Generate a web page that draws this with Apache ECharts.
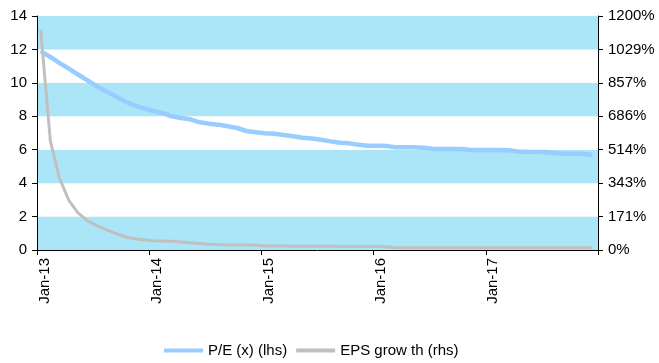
<!DOCTYPE html>
<html>
<head>
<meta charset="utf-8">
<script src="https://cdn.jsdelivr.net/npm/echarts@6/dist/echarts.min.js"></script>
<style>
  html, body { margin: 0; padding: 0; background: #fff; }
  #chart { width: 659px; height: 363px; }
</style>
</head>
<body>
<div id="chart"></div>
<script>
// Observation dates (mid-month, Jan-2013 to Dec-2017)
const dates = [];
for (let y = 2013; y <= 2017; y++) {
  for (let mo = 1; mo <= 12; mo++) {
    dates.push(y + '-' + String(mo).padStart(2, '0') + '-13');
  }
}

// P/E multiple (x), left-hand scale
const peValues = [
  11.9, 11.55, 11.2, 10.85, 10.5, 10.15, 9.8, 9.5, 9.2, 8.9, 8.65, 8.48,
  8.33, 8.2, 8.0, 7.9, 7.82, 7.64, 7.56, 7.5, 7.4, 7.3, 7.12, 7.05,
  6.98, 6.96, 6.88, 6.8, 6.72, 6.67, 6.6, 6.5, 6.42, 6.38, 6.3, 6.24,
  6.24, 6.22, 6.14, 6.14, 6.14, 6.12, 6.05, 6.04, 6.04, 6.04, 5.98, 5.98,
  5.98, 5.98, 5.97, 5.9, 5.88, 5.87, 5.86, 5.8, 5.76, 5.76, 5.76, 5.68
];

// EPS growth (%), right-hand scale
const epsGrowth = [
  1130, 560, 370, 255, 190, 150, 125, 104, 85, 68, 58, 52,
  48, 46, 45, 41, 37, 33, 30, 28, 26, 26, 26, 25,
  20, 20, 20, 19, 19, 19, 19, 19, 18, 18, 18, 18,
  18, 17, 11, 11, 11, 11, 11, 11, 11, 11, 11, 11,
  11, 11, 11, 11, 11, 11, 11, 11, 11, 11, 11, 11
];

// Year tick labels on the date axis
const xTickLabels = ['Jan-13', 'Jan-14', 'Jan-15', 'Jan-16', 'Jan-17'];

const seriesNames = ['P/E (x) (lhs)', 'EPS grow th (rhs)'];

// Months elapsed since 1 Jan 2013, used as the horizontal scale
function monthsSinceStart(d) {
  const [y, m, day] = d.split('-').map(Number);
  const dim = new Date(y, m, 0).getDate();
  return (y - 2013) * 12 + (m - 1) + (day - 1) / dim;
}

const peData = dates.map((d, i) => [monthsSinceStart(d), peValues[i]]);
const epsData = dates.map((d, i) => [monthsSinceStart(d), epsGrowth[i]]);

const FONT = 'Liberation Sans, Arial, sans-serif';
const FS = 15;
const BAND = '#aae5f8';

const chart = echarts.init(document.getElementById('chart'), null, { renderer: 'canvas' });
chart.setOption({
  animation: false,
  backgroundColor: '#ffffff',
  grid: { left: 37, right: 61, top: 16, bottom: 113, containLabel: false },
  legend: {
    data: [
      { name: seriesNames[0], icon: 'rect', itemStyle: { color: '#99ccff' } },
      { name: seriesNames[1], icon: 'rect', itemStyle: { color: '#c0c0c0' } }
    ],
    left: 159,
    top: 338,
    itemWidth: 39,
    itemHeight: 4,
    itemGap: 9,
    textStyle: { fontFamily: FONT, fontSize: FS, color: '#000' }
  },
  xAxis: {
    type: 'value',
    min: 0,
    max: 60,
    interval: 12,
    axisLine: { show: true, onZero: false, lineStyle: { color: '#000', width: 1 } },
    axisTick: { show: true, length: 5, lineStyle: { color: '#000' } },
    splitLine: { show: false },
    axisLabel: {
      rotate: 90,
      margin: 8,
      verticalAlign: 'top',
      fontFamily: FONT,
      fontSize: FS,
      color: '#000',
      formatter: v => (v / 12 < xTickLabels.length ? xTickLabels[v / 12] : '')
    }
  },
  yAxis: [
    {
      type: 'value',
      min: 0,
      max: 14,
      interval: 2,
      axisLine: { show: true, lineStyle: { color: '#000', width: 1 } },
      axisTick: { show: true, length: 5, lineStyle: { color: '#000' } },
      splitLine: { show: false },
      splitArea: { show: true, areaStyle: { color: [BAND, '#ffffff'] } },
      axisLabel: { margin: 10, fontFamily: FONT, fontSize: FS, color: '#000' }
    },
    {
      type: 'value',
      min: 0,
      max: 1200,
      interval: 1200 / 7,
      position: 'right',
      axisLine: { show: true, lineStyle: { color: '#000', width: 1 } },
      axisTick: { show: true, length: 5, lineStyle: { color: '#000' } },
      splitLine: { show: false },
      axisLabel: {
        margin: 10,
        fontFamily: FONT,
        fontSize: FS,
        color: '#000',
        formatter: v => Math.round(v) + '%'
      }
    }
  ],
  series: [
    {
      name: seriesNames[0],
      type: 'line',
      yAxisIndex: 0,
      data: peData,
      showSymbol: false,
      symbol: 'none',
      lineStyle: { color: '#99ccff', width: 4.5 },
      itemStyle: { color: '#99ccff' },
      z: 3
    },
    {
      name: seriesNames[1],
      type: 'line',
      yAxisIndex: 1,
      data: epsData,
      showSymbol: false,
      symbol: 'none',
      lineStyle: { color: '#c0c0c0', width: 3 },
      itemStyle: { color: '#c0c0c0' },
      z: 4
    }
  ]
});
</script>
</body>
</html>
